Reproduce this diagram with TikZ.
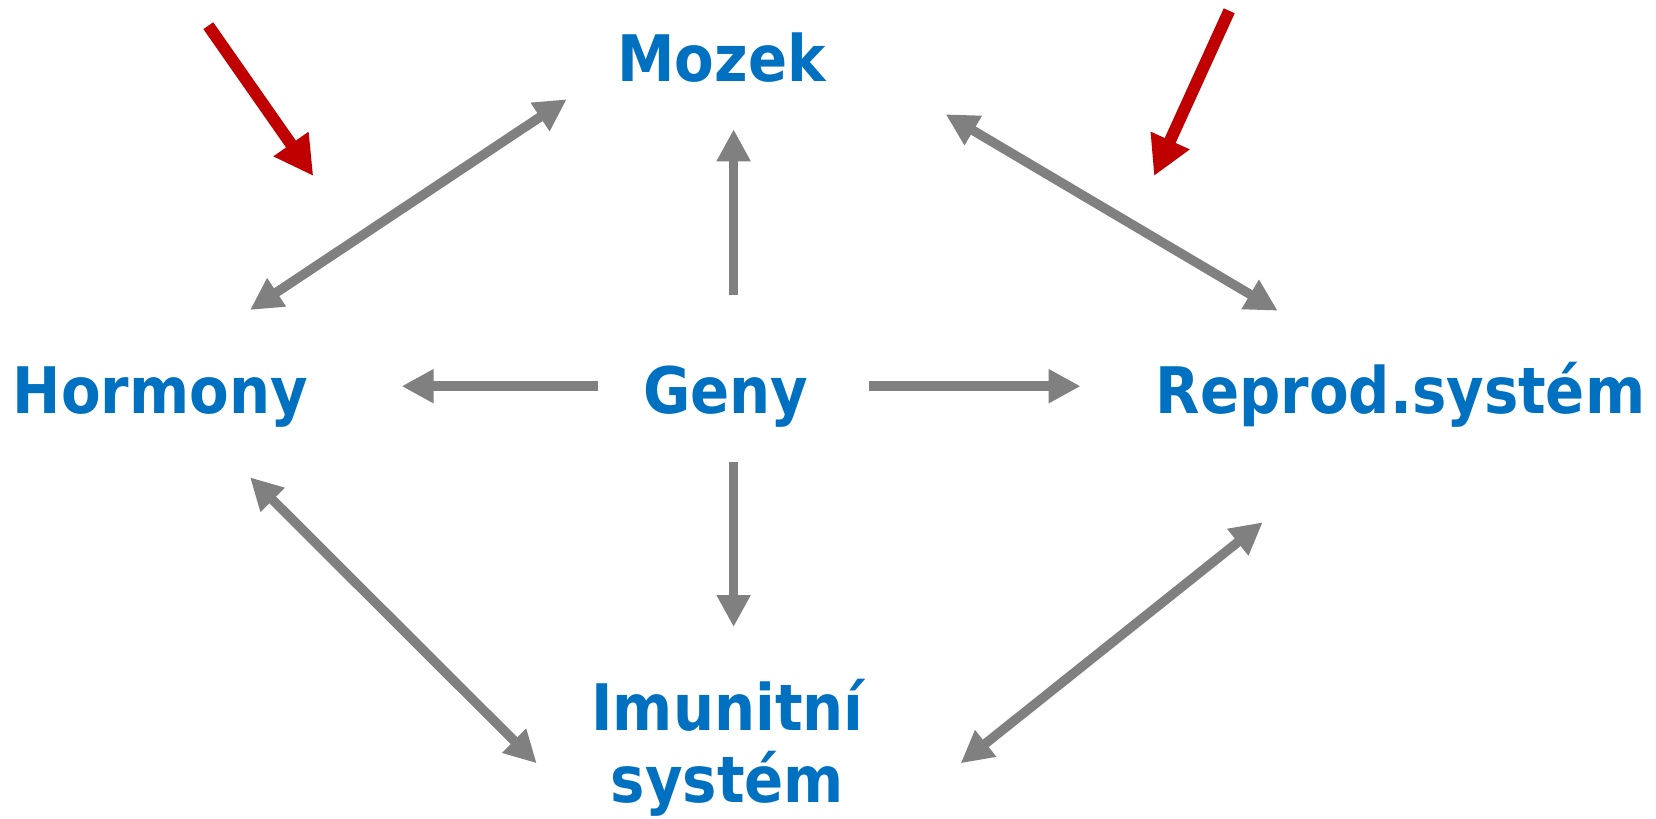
\documentclass[tikz,border=0pt]{standalone}
\usepackage{fontspec}
\setmainfont{DejaVu Sans Condensed}
\usetikzlibrary{arrows.meta}
\definecolor{textblue}{HTML}{0070C0}
\definecolor{arrowgray}{HTML}{808080}
\definecolor{arrowred}{HTML}{C00000}
\tikzset{
	organ/.style = {anchor = base, inner sep = 0pt, text = textblue, align = center,
		font = \fontsize{36.5}{41}\selectfont\bfseries},
	link/.style = {line width = 1.9mm, arrowgray, -{Triangle[length = 6.4mm, width = 6.4mm]}},
	twolink/.style = {link, {Triangle[length = 6.4mm, width = 6.4mm]}-{Triangle[length = 6.4mm, width = 6.4mm]}},
	stress/.style = {line width = 2.4mm, arrowred, -{Triangle[length = 7.8mm, width = 8mm]}}
}
\begin{document}
\begin{tikzpicture}
				\useasboundingbox (0mm, 0mm) rectangle (331.2mm, -163.8mm);
				
				% organs
				\node[organ] (mozek) at (144.3mm, -16.26mm) {Mozek};
				\node[organ] (geny) at (145.14mm, -82.72mm) {Geny};
				\node[organ] (hormony) at (32.08mm, -82.8mm) {Hormony};
				\node[organ] (reprod) at (280.1mm, -82.8mm) {Reprod.systém};
				\node[organ] (imunita) at (145.5mm, -160.5mm) {Imunitní\\systém};
				
				% arrow ends
				\coordinate (gm1) at (146.72mm, -59mm);
				\coordinate (gm2) at (146.72mm, -25.86mm);
				\coordinate (gi1) at (146.72mm, -92.32mm);
				\coordinate (gi2) at (146.72mm, -125.4mm);
				\coordinate (gh1) at (119.52mm, -77.24mm);
				\coordinate (gh2) at (80.32mm, -77.24mm);
				\coordinate (gr1) at (173.88mm, -77.24mm);
				\coordinate (gr2) at (216.12mm, -77.24mm);
				\coordinate (hm1) at (50mm, -62mm);
				\coordinate (hm2) at (113.34mm, -19.86mm);
				\coordinate (mr1) at (189.14mm, -22.86mm);
				\coordinate (mr2) at (255.54mm, -62.14mm);
				\coordinate (hi1) at (50mm, -95.46mm);
				\coordinate (hi2) at (107.34mm, -152.66mm);
				\coordinate (ri1) at (252.54mm, -104.46mm);
				\coordinate (ri2) at (192.14mm, -152.66mm);
				\coordinate (s1a) at (41.66mm, -5.14mm);
				\coordinate (s1b) at (62.66mm, -35.2mm);
				\coordinate (s2a) at (245.84mm, -2.16mm);
				\coordinate (s2b) at (230.8mm, -35.2mm);
				
				% arrows from geny
				\draw[link] (gm1) -- (gm2);
				\draw[link] (gi1) -- (gi2);
				\draw[link] (gh1) -- (gh2);
				\draw[link] (gr1) -- (gr2);
				
				% arrows between organs
				\draw[twolink] (hm1) -- (hm2);
				\draw[twolink] (mr1) -- (mr2);
				\draw[twolink] (hi1) -- (hi2);
				\draw[twolink] (ri1) -- (ri2);
				
				% red arrows
				\draw[stress] (s1a) -- (s1b);
				\draw[stress] (s2a) -- (s2b);
				
\end{tikzpicture}
\end{document}
